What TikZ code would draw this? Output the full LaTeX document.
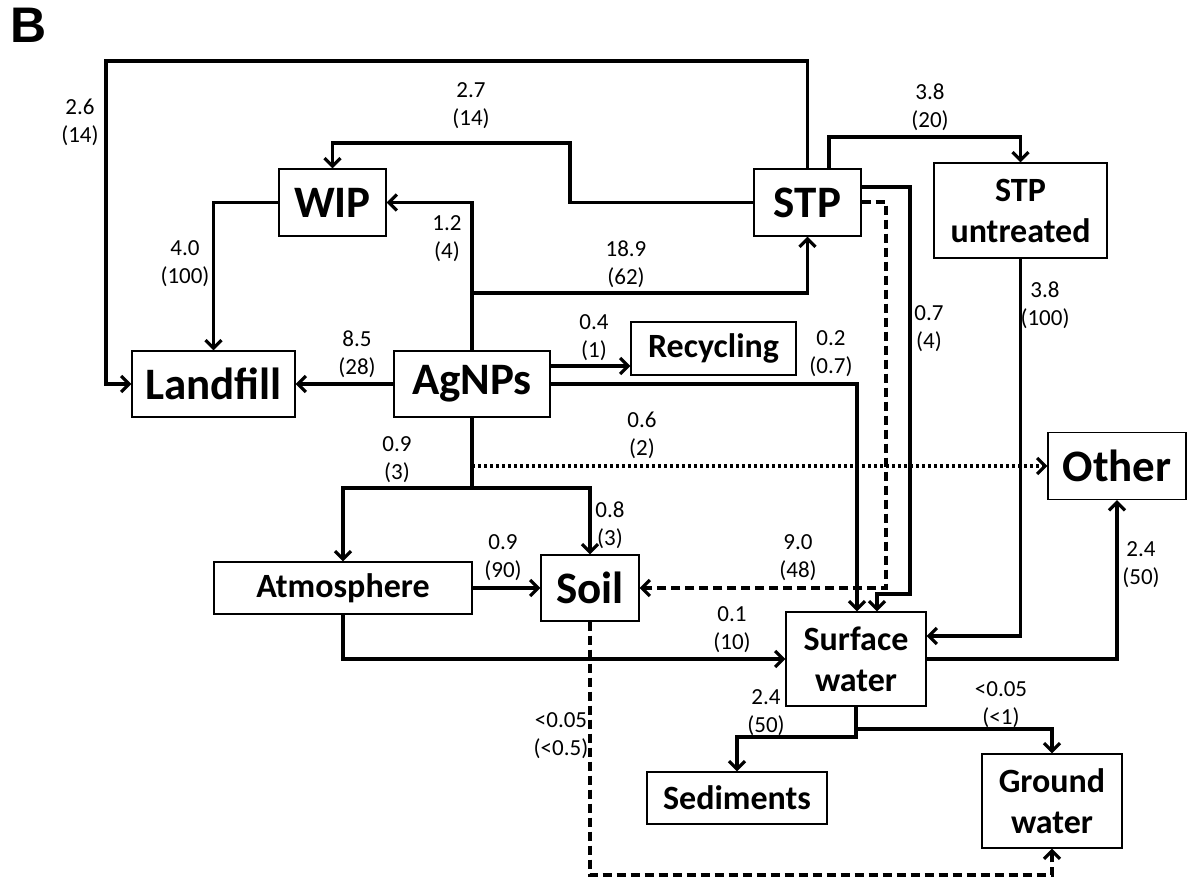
\documentclass[tikz,border=0pt]{standalone}
\usepackage{fontspec}
\setmainfont{Carlito}
\newfontfamily\panelfont{Liberation Sans}
\usepackage{tikz}
\usetikzlibrary{arrows.meta}

\begin{document}
\begin{tikzpicture}
		[x=1pt,y=-1pt,
		box/.style={draw, line width=1.3pt, inner sep=0pt, align=center},
		bigbox/.style={box, font=\fontsize{45}{48}\selectfont\bfseries},
		midbox/.style={box, font=\fontsize{34}{41}\selectfont\bfseries},
		lbl/.style={align=center, inner sep=1pt, font=\fontsize{23}{28}\selectfont},
		flow/.style={line width=3.2pt, -{Straight Barb[length=8pt,width=16pt]}},
		dashflow/.style={flow, dash pattern=on 9pt off 5pt},
		dotflow/.style={flow, dash pattern=on 3pt off 3pt}]
		\useasboundingbox (0,0) rectangle (1189,888);
		\node[font=\fontsize{50}{50}\selectfont\bfseries\panelfont] (panel) at (29,25) {B};
		% compartments
		\node[bigbox, minimum width=107pt, minimum height=67pt] (wip) at (332.5,202.5) {WIP};
		\node[bigbox, minimum width=163pt, minimum height=66pt] (landfill) at (213.5,384) {Landfill};
		\node[bigbox, minimum width=156pt, minimum height=66pt] (agnps) at (472,384) {AgNPs};
		\node[bigbox, minimum width=107pt, minimum height=67pt] (stp) at (807.5,202.5) {STP};
		\node[midbox, minimum width=173pt, minimum height=95pt] (stpu) at (1020.5,210.5) {STP\\untreated};
		\node[midbox, minimum width=165pt, minimum height=53pt] (recycling) at (713.5,348.5) {Recycling};
		\node[bigbox, minimum width=138pt, minimum height=67pt] (other) at (1117,466) {Other};
		\node[midbox, minimum width=258pt, minimum height=52pt] (atmos) at (343,588) {Atmosphere};
		\node[bigbox, minimum width=98pt, minimum height=66pt] (soil) at (590,588) {Soil};
		\node[midbox, minimum width=140pt, minimum height=94pt] (surface) at (856,659) {Surface\\water};
		\node[midbox, minimum width=180pt, minimum height=52pt] (sediments) at (737,798) {Sediments};
		\node[midbox, minimum width=140pt, minimum height=94pt] (ground) at (1052,801) {Ground\\water};
		% bends
		\coordinate (c1) at (106,61);
		\coordinate (c2) at (570,143);
		\coordinate (c4) at (472,293);
		\coordinate (c9) at (472,466);
		\coordinate (c10) at (472,488);
		\coordinate (c13) at (590,875);
		\coordinate (c14) at (886,588);
		\coordinate (c15a) at (910,594);
		\coordinate (c15b) at (877,594);
		\coordinate (c16) at (829,137);
		\coordinate (c19) at (856,737);
		\coordinate (c20) at (856,729);
		% flows
		\draw[flow] (stp.north) |- (c1) |- (landfill.west);
		\draw[flow] (stp.west) -| (c2) -| (wip.north);
		\draw[flow] (agnps.north) |- (wip.east);
		\draw[flow] (agnps.north) -- (c4) -| (stp.south);
		\draw[flow] (wip.west) -| (landfill.north);
		\draw[flow] ([yshift=18pt]agnps.east) -- ([yshift=18pt]agnps.east -| recycling.west);
		\draw[flow] (agnps.east) -| ([xshift=1pt]surface.north);
		\draw[dotflow] (c9) -- (other.west);
		\draw[flow] (agnps.south) -- (c10) -| (atmos.north);
		\draw[flow] (c10) -| (soil.north);
		\foreach \from/\to in {agnps.west/landfill.east,atmos.east/soil.west}
		\draw[flow] (\from) -- (\to);
		\draw[flow] (atmos.south) |- (surface.west);
		\draw[dashflow] (soil.south) -- (c13) -| (ground.south);
		\draw[dashflow] ([yshift=0.5pt]stp.east) -| (c14) -- (soil.east);
		\draw[flow] ([yshift=15.5pt]stp.east) -| (c15a) -- (c15b) -- ([xshift=21pt]surface.north);
		\draw[flow] ([xshift=21.5pt]stp.north) -- (c16) -| (stpu.north);
		\draw[flow] (stpu.south) |- ([yshift=23pt]surface.east);
		\draw[flow] (surface.east) -| (other.south);
		\draw[flow] (surface.south) -- (c19) -| (sediments.north);
		\draw[flow] (c20) -| (ground.north);
		% amounts
		\node[lbl] (l1) at (80,122) {2.6\\(14)};
		\node[lbl] (l2) at (471,106) {2.7\\(14)};
		\node[lbl] (l3) at (447,239) {1.2\\(4)};
		\node[lbl] (l4) at (626,264) {18.9\\(62)};
		\node[lbl] (l5) at (185,264) {4.0\\(100)};
		\node[lbl] (l6) at (357,354) {8.5\\(28)};
		\node[lbl] (l7) at (594,338) {0.4\\(1)};
		\node[lbl] (l8) at (831,354) {0.2\\(0.7)};
		\node[lbl] (l9) at (642,435) {0.6\\(2)};
		\node[lbl] (l10) at (397,460) {0.9\\(3)};
		\node[lbl] (l11) at (610,525) {0.8\\(3)};
		\node[lbl] (l12) at (503,558) {0.9\\(90)};
		\node[lbl] (l13) at (561,736) {<0.05\\(<0.5)};
		\node[lbl] (l14) at (798,558) {9.0\\(48)};
		\node[lbl] (l15) at (929,329) {0.7\\(4)};
		\node[lbl] (l16) at (930,107) {3.8\\(20)};
		\node[lbl] (l17) at (1045,305) {3.8\\(100)};
		\node[lbl] (l18) at (1141,565) {2.4\\(50)};
		\node[lbl] (l19) at (732,630) {0.1\\(10)};
		\node[lbl] (l20) at (766,713) {2.4\\(50)};
		\node[lbl] (l21) at (1001,705) {<0.05\\(<1)};
	\end{tikzpicture}
\end{document}
